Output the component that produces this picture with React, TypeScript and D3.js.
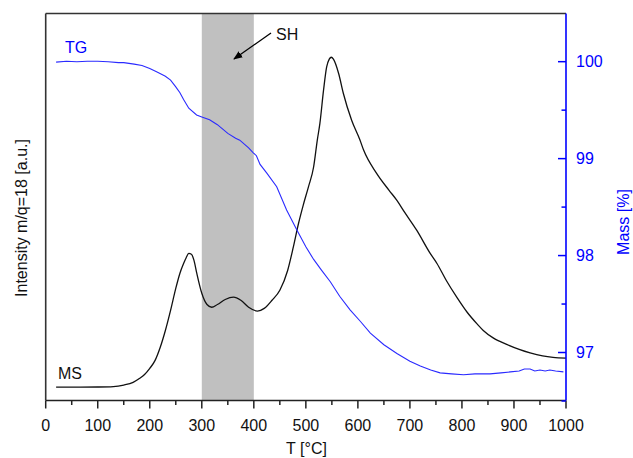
import React from "react";
import * as d3 from "d3";

const msT = [20, 50, 100, 130, 150, 168, 180, 190, 200, 210, 220, 230, 240, 250, 258, 265, 270, 275, 280, 285, 290, 300, 310, 319, 330, 345, 361, 375, 390, 407, 420, 435, 450, 465, 476, 486, 495, 505, 515, 522, 527, 534, 540, 545, 549, 553, 563, 572, 588, 604, 611, 636, 660, 675, 690, 713, 739, 752, 770, 790, 810, 829, 841, 860, 886, 910, 931, 955, 975, 1000];
const msV = [3.44, 3.44, 3.49, 3.6, 4.0, 4.7, 5.7, 6.7, 8.3, 10.3, 13.7, 18.1, 23.3, 28.98, 32.9, 35.4, 36.9, 38.0, 37.8, 36.2, 33.1, 27.7, 24.8, 24.1, 24.8, 26.1, 26.7, 25.9, 24.1, 23.1, 23.8, 25.9, 28.5, 33.6, 39.7, 45.8, 50.5, 55.2, 60.4, 67.3, 71.6, 80.2, 86.2, 88.2, 88.7, 88.2, 84.5, 79.4, 72.4, 67.3, 64.7, 58.7, 54.3, 51.7, 48.6, 44.0, 38.0, 35.4, 31.0, 26.7, 22.8, 19.8, 18.1, 16.17, 14.49, 13.2, 12.29, 11.51, 11.13, 10.94];

const tgT = [20, 40, 60, 80, 100, 120, 140, 150, 170, 185, 200, 215, 230, 240, 250, 258, 265, 275, 290, 300, 315, 330, 350, 365, 373, 390, 399, 405, 412, 425, 444, 463, 483, 500, 515, 530, 547, 565, 585, 605, 624, 650, 675, 700, 720, 740, 758, 780, 803, 825, 854, 875, 893, 910, 920, 931, 940, 950, 960, 969, 980, 995];
const tgV = [99.995, 100.005, 100.0, 100.005, 100.005, 100.0, 99.99, 99.99, 99.975, 99.96, 99.93, 99.89, 99.85, 99.81, 99.74, 99.68, 99.61, 99.52, 99.45, 99.43, 99.4, 99.35, 99.26, 99.21, 99.19, 99.11, 99.06, 99.03, 98.94, 98.85, 98.71, 98.47, 98.26, 98.09, 97.96, 97.85, 97.73, 97.58, 97.44, 97.32, 97.2, 97.08, 96.99, 96.91, 96.86, 96.82, 96.79, 96.78, 96.77, 96.78, 96.78, 96.79, 96.8, 96.81, 96.83, 96.83, 96.81, 96.82, 96.81, 96.82, 96.81, 96.8];

const xMajor = [0, 100, 200, 300, 400, 500, 600, 700, 800, 900, 1000];
const xMinor = [50, 150, 250, 350, 450, 550, 650, 750, 850, 950];
const massMajor = [97, 98, 99, 100];
const massMinor = [96.5, 97.5, 98.5, 99.5];
const band = [300, 400];

const L = 45.7, R = 566, T = 13.5, B = 400.5;
const FONT = "Arial, 'Liberation Sans', sans-serif";
const BLUE = "#0000ff";
const TGC = "#2a2aff";

export default function App() {
  const x = d3.scaleLinear().domain([0, 1000]).range([L, R]);
  const yMs = d3.scaleLinear().domain([0, 100]).range([B, T]);
  const yM = d3.scaleLinear().domain([96.505, 100.497]).range([B, T]);

  const msLine = d3.line<number>().x((d, i) => x(msT[i])).y((d) => yMs(d)).curve(d3.curveMonotoneX);
  const tgLine = d3.line<number>().x((d, i) => x(tgT[i])).y((d) => yM(d)).curve(d3.curveLinear);

  return (
    <svg width={633} height={458} style={{ position: "absolute", left: 0, top: 0 }} fontFamily={FONT}>
      <defs>
        <marker id="ah" viewBox="0 0 10 10" refX="9" refY="5" markerWidth="7" markerHeight="7" orient="auto">
          <path d="M0,1 L10,5 L0,9 Z" fill="#000" />
        </marker>
      </defs>
      <rect x={0} y={0} width={633} height={458} fill="#fff" />
      <rect x={x(band[0])} y={T} width={x(band[1]) - x(band[0])} height={B - T} fill="#c0c0c0" />
      <path d={msLine(msV) || ""} fill="none" stroke="#111" strokeWidth={1.3} />
      <path d={tgLine(tgV) || ""} fill="none" stroke={TGC} strokeWidth={1.1} />

      <line x1={L} y1={T} x2={R} y2={T} stroke="#333" strokeWidth={1.6} />
      <line x1={L} y1={T} x2={L} y2={B} stroke="#333" strokeWidth={1.6} />
      <line x1={L} y1={B} x2={R} y2={B} stroke="#222" strokeWidth={1.6} />
      <line x1={R} y1={T} x2={R} y2={B} stroke={BLUE} strokeWidth={1.6} />

      {xMajor.map((t) => (
        <g key={"xm" + t}>
          <line x1={x(t)} x2={x(t)} y1={B} y2={B + 8} stroke="#222" strokeWidth={1.5} />
          <text x={x(t)} y={431} textAnchor="middle" fontSize={16} fill="#111">{t}</text>
        </g>
      ))}
      {xMinor.map((t) => (
        <line key={"xn" + t} x1={x(t)} x2={x(t)} y1={B} y2={B + 4.5} stroke="#222" strokeWidth={1.5} />
      ))}
      {massMajor.map((m) => (
        <g key={"mm" + m}>
          <line x1={R - 8} x2={R} y1={yM(m)} y2={yM(m)} stroke={BLUE} strokeWidth={1.5} />
          <text x={576} y={yM(m)} dy="0.36em" fontSize={16} fill={BLUE}>{m}</text>
        </g>
      ))}
      {massMinor.map((m) => (
        <line key={"mn" + m} x1={R - 4.5} x2={R} y1={yM(m)} y2={yM(m)} stroke={BLUE} strokeWidth={1.5} />
      ))}

      <text x={306.5} y={453.5} textAnchor="middle" fontSize={16} fill="#111">T [°C]</text>
      <text transform="translate(27,218) rotate(-90)" textAnchor="middle" fontSize={16} fill="#111">Intensity m/q=18 [a.u.]</text>
      <text transform="translate(629,222) rotate(-90)" textAnchor="middle" fontSize={16} fill={BLUE}>Mass [%]</text>

      <text x={65} y={53} fontSize={16} fill={BLUE}>TG</text>
      <text x={58} y={379} fontSize={16} fill="#111">MS</text>
      <text x={276} y={40} fontSize={16} fill="#111">SH</text>
      <line x1={271} y1={33} x2={234} y2={59} stroke="#000" strokeWidth={1.3} markerEnd="url(#ah)" />
    </svg>
  );
}
